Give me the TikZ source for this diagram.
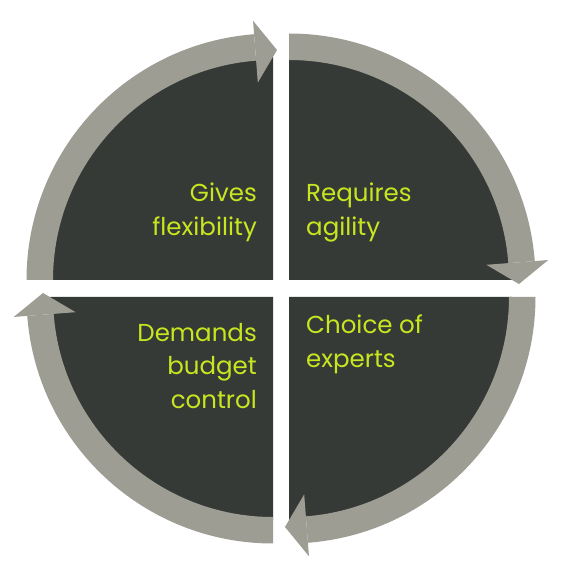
\documentclass[tikz,border=0pt]{standalone}
\usepackage{fontspec}
\setmainfont{Poppins}
\definecolor{darkq}{HTML}{363A36}
\definecolor{grayq}{HTML}{9D9D94}
\definecolor{txtq}{HTML}{C8E620}
\begin{document}
\begin{tikzpicture}[x=1pt,y=1pt,
  quad/.style={fill=darkq},
  band/.style={fill=grayq},
  lbl/.style={text=txtq,inner sep=0pt,font=\fontsize{24.5}{34}\selectfont}]
\useasboundingbox[fill=white] (0,0) rectangle (566,566);
\def\ri{220}\def\ro{246.5}\def\rd{223}
% top-left
\begin{scope}[shift={(273,286)}]
  \fill[quad] (0,0) -- (180:\rd) arc[start angle=180,end angle=90,radius=\rd] -- cycle;
  \fill[band] (180:\ri) -- (180:\ro) arc[start angle=180,end angle=94.4,radius=\ro] -- (94.4:\ri) arc[start angle=94.4,end angle=180,radius=\ri] -- cycle;
  \fill[band] (94.4:198) -- (94.4:260) -- (89:230) -- cycle;
\end{scope}
% top-right
\begin{scope}[shift={(289,286)}]
  \fill[quad] (0,0) -- (90:\rd) arc[start angle=90,end angle=0,radius=\rd] -- cycle;
  \fill[band] (90:\ri) -- (90:\ro) arc[start angle=90,end angle=4.4,radius=\ro] -- (4.4:\ri) arc[start angle=4.4,end angle=90,radius=\ri] -- cycle;
  \fill[band] (4.4:198) -- (4.4:260) -- (-1:230) -- cycle;
\end{scope}
% bottom-right
\begin{scope}[shift={(289,269)}]
  \fill[quad] (0,0) -- (0:\rd) arc[start angle=0,end angle=-90,radius=\rd] -- cycle;
  \fill[band] (0:\ri) -- (0:\ro) arc[start angle=0,end angle=-85.6,radius=\ro] -- (-85.6:\ri) arc[start angle=-85.6,end angle=0,radius=\ri] -- cycle;
  \fill[band] (-85.6:198) -- (-85.6:260) -- (-91:230) -- cycle;
\end{scope}
% bottom-left
\begin{scope}[shift={(273,269)}]
  \fill[quad] (0,0) -- (270:\rd) arc[start angle=270,end angle=180,radius=\rd] -- cycle;
  \fill[band] (270:\ri) -- (270:\ro) arc[start angle=270,end angle=184.4,radius=\ro] -- (184.4:\ri) arc[start angle=184.4,end angle=270,radius=\ri] -- cycle;
  \fill[band] (184.4:198) -- (184.4:260) -- (179:230) -- cycle;
\end{scope}
\node[lbl,align=right,anchor=base east] (tl) at (257,330) {Gives\\flexibility};
\node[lbl,align=left,anchor=base west] (tr) at (306,330) {Requires\\agility};
\node[lbl,align=left,anchor=base west] (br) at (306,198) {Choice of\\experts};
\node[lbl,align=right,anchor=base east] (bl) at (257,157) {Demands\\budget\\control};
\end{tikzpicture}
\end{document}
